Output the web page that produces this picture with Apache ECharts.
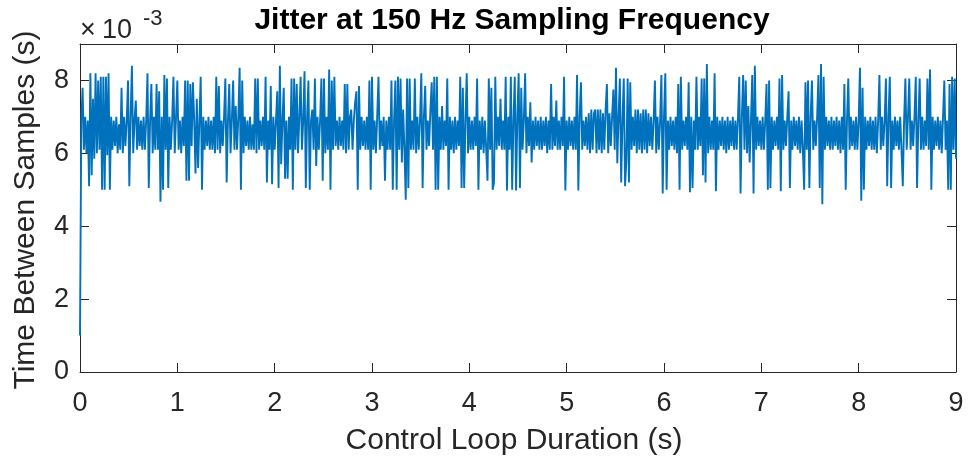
<!DOCTYPE html>
<html>
<head>
<meta charset="utf-8">
<script src="https://cdn.jsdelivr.net/npm/echarts@6/dist/echarts.min.js"></script>
<style>html,body{margin:0;padding:0;background:#fff}#c{width:968px;height:462px}</style>
</head>
<body>
<div id="c"></div>
<script>
// sample spacing of the plotted series (s)
const sampleStep = 1 / 75;
// time between samples, in units of 1e-3 s
const jitterMs = [
1.0,6.9,7.8,6.1,7.0,6.0,6.9,5.1,8.2,5.4,7.5,5.85,8.2,6.0,8.0,6.1,8.1,5.0,8.1,5.0,8.1,5.95,8.2,5.0,7.0,
6.1,6.9,6.2,7.0,6.0,6.8,6.1,7.8,6.0,7.0,6.2,6.9,8.0,5.1,7.0,8.4,6.0,6.9,7.45,6.1,7.0,6.2,6.9,6.1,7.0,
6.1,6.9,8.2,5.05,6.9,7.9,6.0,7.0,6.1,7.9,6.1,7.7,4.67,7.0,5.0,8.15,6.1,8.05,5.05,7.0,6.1,6.9,8.1,6.0,7.0,
8.0,6.1,6.9,6.0,7.0,6.2,8.0,5.25,8.0,5.25,7.9,6.2,7.95,6.9,5.45,7.5,5.6,6.9,8.1,5.0,7.0,6.1,6.9,6.2,7.0,
6.1,6.9,6.1,7.0,6.0,8.1,6.1,7.85,6.0,6.9,6.2,7.0,8.05,5.2,6.9,7.9,6.0,6.9,8.0,6.1,7.3,6.1,7.0,8.35,5.0,
8.0,6.0,7.0,6.2,6.9,6.1,7.0,6.1,6.8,6.1,8.05,6.0,8.05,6.1,6.9,6.2,7.0,6.1,8.1,5.2,6.9,6.1,7.85,5.15,7.0,
6.1,6.9,7.7,5.05,8.4,5.7,6.9,7.8,5.3,6.9,5.3,7.0,6.1,8.05,5.0,8.05,6.1,7.9,6.0,7.0,8.1,6.1,6.9,8.25,5.05,
7.0,8.0,5.0,6.9,7.2,6.1,8.05,5.65,7.0,6.1,6.9,8.05,5.25,8.05,6.0,7.0,6.1,8.3,5.0,8.0,6.1,8.1,6.2,6.9,6.1,
7.0,6.2,6.9,6.1,7.9,6.0,7.9,6.1,7.0,7.2,6.1,6.9,7.4,7.7,5.0,7.85,6.1,7.0,6.2,6.9,6.1,7.0,6.1,8.0,5.0,
8.1,6.1,6.9,6.0,7.0,8.1,6.1,6.9,6.2,7.0,5.25,6.9,6.1,7.0,6.1,8.0,5.0,6.9,8.0,5.0,8.1,6.1,8.05,5.75,7.2,
6.1,4.73,8.05,5.05,8.05,6.1,6.9,6.1,8.05,6.0,7.0,6.1,6.9,8.2,5.05,7.0,7.85,6.1,6.9,6.2,7.2,7.95,6.1,8.1,5.0,
8.1,5.0,7.0,6.1,7.3,6.1,6.9,6.2,8.05,5.0,7.0,6.1,6.9,6.0,7.0,6.1,6.9,6.2,8.1,5.05,7.8,5.05,6.9,8.2,6.0,
7.0,6.1,6.9,6.1,7.0,6.2,8.05,5.0,6.9,6.1,7.0,6.0,6.9,6.1,5.25,8.05,6.1,7.8,5.0,5.2,8.1,6.1,7.0,6.2,7.5,
6.1,6.9,6.1,8.1,4.98,7.0,6.1,8.1,5.0,6.9,8.1,4.98,7.0,8.2,5.05,7.8,6.1,6.9,8.2,6.0,7.0,6.2,7.4,5.75,6.9,
6.1,7.0,6.2,6.9,6.1,7.0,6.1,6.9,6.2,7.0,6.0,6.9,6.1,7.9,6.1,7.0,6.2,7.45,6.1,6.9,6.1,7.0,6.2,8.1,4.98,
6.9,6.1,7.0,6.2,6.9,6.1,7.0,6.1,8.15,4.98,7.0,7.95,6.1,6.9,6.2,7.0,6.1,7.1,6.0,7.2,6.1,7.1,7.2,6.0,7.2,
6.1,7.2,6.0,7.1,6.1,7.2,7.9,6.0,7.1,6.2,7.0,7.75,6.1,8.35,5.73,7.0,8.05,5.2,6.9,8.05,5.1,5.8,8.05,5.2,7.95,
6.1,7.0,6.2,7.2,6.0,7.2,6.1,7.1,6.0,7.2,6.1,7.2,6.0,7.1,6.2,7.0,6.1,6.9,8.0,6.0,7.0,6.1,6.9,8.15,4.9,
7.0,8.2,5.0,6.9,6.1,7.0,6.2,6.9,6.1,7.0,6.0,7.9,5.0,8.1,6.1,6.9,6.2,7.0,6.1,7.95,4.93,7.0,5.05,6.9,6.1,
8.1,6.1,7.0,6.2,8.05,5.4,8.05,5.2,8.45,6.0,7.0,6.1,6.9,6.1,8.2,4.96,7.0,6.1,6.9,6.2,7.0,6.1,6.9,6.0,7.0,
6.1,6.9,6.2,7.0,6.1,6.9,6.1,7.0,8.1,4.9,7.0,8.15,6.1,8.0,6.0,7.3,5.75,6.9,8.15,4.9,8.4,6.1,7.0,6.2,6.9,
6.1,7.0,6.1,6.9,7.9,5.0,8.0,5.05,7.0,6.1,6.9,6.2,7.0,6.1,8.05,4.96,8.15,6.1,6.9,6.2,7.0,7.7,5.05,6.9,6.1,
7.0,6.2,6.9,6.1,7.0,6.0,6.9,6.1,5.0,7.95,6.1,8.0,5.05,7.0,8.0,6.1,6.9,6.2,7.0,8.15,5.05,8.45,4.6,8.1,6.1,
7.0,6.2,6.9,6.1,7.0,6.1,6.9,6.2,7.0,6.1,6.9,6.0,7.0,6.1,7.9,5.0,6.9,8.05,6.1,7.0,6.2,6.9,6.1,7.0,6.1,
6.9,8.35,4.7,7.8,5.0,7.0,6.1,6.9,6.2,7.0,6.1,6.9,6.1,7.0,6.0,6.9,8.15,6.1,7.0,6.2,6.9,8.05,5.1,7.0,8.1,
5.05,6.9,6.1,7.0,6.2,6.9,6.1,7.0,6.1,5.1,6.9,8.05,6.1,7.0,8.05,6.1,6.9,6.2,7.0,8.1,5.05,6.9,8.05,6.1,7.0,
6.1,6.9,6.2,8.05,6.1,8.3,5.0,7.0,6.1,6.9,6.2,7.0,6.1,6.9,6.0,7.0,8.0,6.1,6.9,5.0,7.9,5.0,8.1,6.1,8.05,5.85
];
const xRange = [0, 9];
const yRange = [0, 9];
const xStep = 1;
const yStep = 2;
const titleText = 'Jitter at 150 Hz Sampling Frequency';
const xLabel = 'Control Loop Duration (s)';
const yLabel = 'Time Between Samples (s)';

const seriesData = jitterMs.map((v, i) => [i * sampleStep, v]);

const FONT = '"Liberation Sans", Arial, Helvetica, sans-serif';
const AX = '#262626';
const axisLine = { show: true, onZero: false, lineStyle: { color: AX, width: 1 } };
const axisTick = { show: true, inside: true, length: 9, lineStyle: { color: AX, width: 1 } };

const chart = echarts.init(document.getElementById('c'), null, { renderer: 'canvas' });
chart.setOption({
  animation: false,
  backgroundColor: '#ffffff',
  grid: { left: 80, right: 12, top: 44, bottom: 90, containLabel: false },
  xAxis: [
    { type: 'value', min: xRange[0], max: xRange[1], interval: xStep, position: 'bottom',
      axisLine, axisTick, splitLine: { show: false },
      axisLabel: { color: AX, fontSize: 27, fontFamily: FONT, margin: 18 } },
    { type: 'value', min: xRange[0], max: xRange[1], interval: xStep, position: 'top',
      axisLine, axisTick, splitLine: { show: false }, axisLabel: { show: false } }
  ],
  yAxis: [
    { type: 'value', min: yRange[0], max: yRange[1], interval: yStep, position: 'left',
      axisLine, axisTick, splitLine: { show: false },
      axisLabel: { color: AX, fontSize: 27, fontFamily: FONT, margin: 11, showMaxLabel: false,
        formatter: v => (v % yStep === 0 ? String(v) : '') } },
    { type: 'value', min: yRange[0], max: yRange[1], interval: yStep, position: 'right',
      axisLine, axisTick, splitLine: { show: false }, axisLabel: { show: false } }
  ],
  series: [{
    type: 'line', xAxisIndex: 0, yAxisIndex: 0, data: seriesData,
    showSymbol: false, symbol: 'none', silent: true, sampling: null,
    lineStyle: { color: '#0072BD', width: 1.9 }
  }],
  graphic: [
    { type: 'text', x: 512, y: 21, style: { text: titleText, fill: '#000', font: 'bold 30px ' + FONT, textAlign: 'center', textVerticalAlign: 'middle' } },
    { type: 'text', x: 514, y: 441, style: { text: xLabel, fill: AX, font: '30px ' + FONT, textAlign: 'center', textVerticalAlign: 'middle' } },
    { type: 'text', x: 26, y: 210, rotation: Math.PI / 2, style: { text: yLabel, fill: AX, font: '30px ' + FONT, textAlign: 'center', textVerticalAlign: 'middle' } },
    { type: 'text', x: 80, y: 31, style: { text: '×', fill: AX, font: '27px ' + FONT, textAlign: 'left', textVerticalAlign: 'middle' } },
    { type: 'text', x: 102, y: 31, style: { text: '10', fill: AX, font: '27px ' + FONT, textAlign: 'left', textVerticalAlign: 'middle' } },
    { type: 'text', x: 143, y: 19, style: { text: '-3', fill: AX, font: '22px ' + FONT, textAlign: 'left', textVerticalAlign: 'middle' } }
  ]
});
</script>
</body>
</html>
